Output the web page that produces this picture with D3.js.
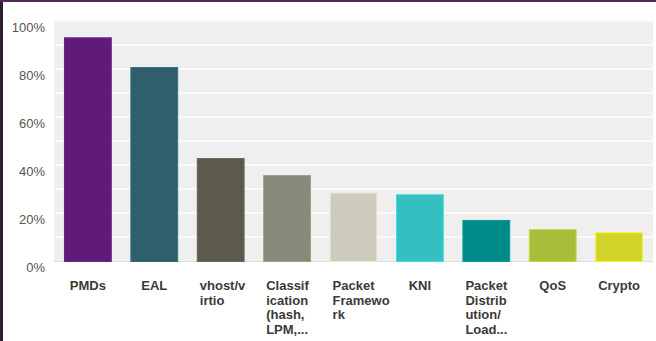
<!DOCTYPE html>
<html><head><meta charset="utf-8">
<script src="https://cdn.jsdelivr.net/npm/d3@7"></script>
<style>html,body{margin:0;padding:0;background:#fff;}svg{display:block;}</style>
</head><body>
<svg id="chart" width="656" height="341"></svg>
<script>
const categories = ["PMDs","EAL","vhost/virtio","Classification (hash, LPM,...","Packet Framework","KNI","Packet Distribution/ Load...","QoS","Crypto"];
const values = [93.2, 80.8, 42.9, 35.8, 28.6, 27.8, 17.1, 13.3, 12.0];
const colors = ["#601a78","#2e5f6b","#5c5a4a","#878a78","#cecbbd","#35bfc0","#018a8a","#a9bd3b","#d2d42b"];
const tickLabels = ["0%","20%","40%","60%","80%","100%"];
const tickValues = [0,20,40,60,80,100];

const svg = d3.select("#chart");
const W = 656, H = 341;
const m = {left:54, right:3, top:21, bottom:80};
const x = d3.scaleBand().domain(categories).range([m.left, W - m.right]).paddingInner(0.28).paddingOuter(0.15);
const y = d3.scaleLinear().domain([0,100]).range([H - m.bottom, m.top]);

// frame
svg.append("rect").attr("x",0).attr("y",0).attr("width",W).attr("height",H).attr("fill","#fff");
svg.append("rect").attr("x",0).attr("y",0).attr("width",3).attr("height",H).attr("fill","#2f1a30");
svg.append("rect").attr("x",0).attr("y",0).attr("width",W).attr("height",2).attr("fill","#4e2e50");

// plot background
svg.append("rect").attr("x",m.left).attr("y",m.top).attr("width",W-m.right-m.left).attr("height",y(0)-m.top+1).attr("fill","#efefef");

// gridlines every 10%
const grid = d3.range(10,101,10);
svg.append("g").selectAll("line").data(grid).join("line")
  .attr("x1",m.left).attr("x2",W-m.right)
  .attr("y1",d=>y(d)).attr("y2",d=>y(d))
  .attr("stroke","#fafafa").attr("stroke-width",2);
svg.append("line").attr("x1",m.left).attr("x2",W-m.right).attr("y1",y(0)+0.5).attr("y2",y(0)+0.5).attr("stroke","#dedede");

// y axis
const yAxis = d3.axisLeft(y).tickValues(tickValues).tickFormat((d,i)=>tickLabels[i]).tickSize(0).tickPadding(0);
const ya = svg.append("g").attr("transform",`translate(45,6)`).call(yAxis);
ya.select(".domain").remove();
ya.selectAll("text").attr("font-family","'Liberation Sans', Arial, sans-serif").attr("font-size","13px").attr("fill","#555");

// bars
svg.append("g").selectAll("rect").data(categories).join("rect")
  .attr("x",d=>x(d)+0.5).attr("width",x.bandwidth()-1)
  .attr("y",(d,i)=>y(values[i])+0.5).attr("height",(d,i)=>y(0)-y(values[i]))
  .attr("fill",(d,i)=>colors[i])
  .attr("stroke",(d,i)=>d3.color(colors[i]).brighter(0.4)).attr("stroke-width",1);

// x labels: words broken into 7-character chunks, at most 4 lines
function wrapWords(text, n){
  const out=[];
  text.split(" ").forEach(w=>{ for(let k=0;k<w.length;k+=n) out.push(w.slice(k,k+n)); });
  return out.slice(0,4);
}
const lab = svg.append("g");
categories.forEach((c,i)=>{
  const lines = wrapWords(c, 7);
  const cx = x(c)+x.bandwidth()/2;
  const multi = lines.length>1;
  const t = lab.append("text")
    .attr("font-family","'Liberation Sans', Arial, sans-serif").attr("font-size","13px").attr("font-weight","bold").attr("fill","#3a3a3a")
    .attr("text-anchor", multi?"start":"middle");
  const tx = multi ? x(c)+3 : cx;
  lines.forEach((l,j)=>t.append("tspan").attr("x",tx).attr("y",290+j*14.5).text(l));
});
</script>
</body></html>
